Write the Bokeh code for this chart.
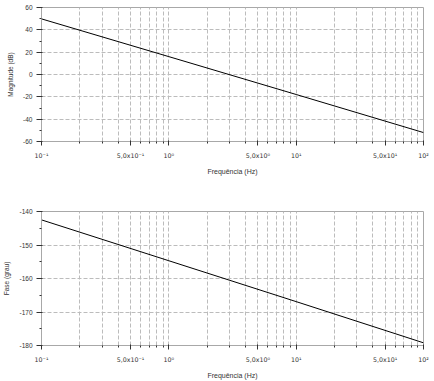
from bokeh.plotting import figure
from bokeh.layouts import column
from bokeh.models import FixedTicker, Range1d
from bokeh.embed import file_html
from bokeh.resources import INLINE

# ---- data ----
freq = [0.1, 1.0, 10.0, 100.0]
magnitude = [49.8, 16.0, -17.9, -52.0]
phase = [-142.5, -154.7, -166.9, -179.2]

x_major = [0.1, 0.5, 1.0, 5.0, 10.0, 50.0, 100.0]
x_labels = ["10⁻¹", "5,0x10⁻¹", "10⁰", "5,0x10⁰", "10¹", "5,0x10¹", "10²"]
x_minor = [0.2, 0.3, 0.4, 0.6, 0.7, 0.8, 0.9,
           2.0, 3.0, 4.0, 6.0, 7.0, 8.0, 9.0,
           20.0, 30.0, 40.0, 60.0, 70.0, 80.0, 90.0]

mag_ticks = [-60, -40, -20, 0, 20, 40, 60]
mag_labels = ["-60", "-40", "-20", "0", "20", "40", "60"]
mag_minor = [-50, -30, -10, 10, 30, 50]

ph_ticks = [-180, -170, -160, -150, -140]
ph_labels = ["-180", "-170", "-160", "-150", "-140"]
ph_minor = [-175, -165, -155, -145]

FONT = "Liberation Sans"
SUP_FONT = "DejaVu Sans"
AXIS_COL = "#a8a8a8"
TICK_COL = "#333333"
GRID_COL = "#bcbcbc"
TEXT_COL = "#333333"


def make(y, yr, yticks, ylabels, yminor, ylabel, height, bt, bb):
    p = figure(width=434, height=height, x_axis_type="log",
               x_range=Range1d(0.1, 100), y_range=Range1d(*yr),
               output_backend="svg", toolbar_location=None,
               min_border_left=41, min_border_right=11,
               min_border_top=bt, min_border_bottom=bb)
    p.line(freq, y, line_color="black", line_width=1.0)
    p.outline_line_color = AXIS_COL
    p.background_fill_color = "white"
    p.border_fill_color = "white"

    p.xaxis.ticker = FixedTicker(ticks=x_major, minor_ticks=x_minor)
    p.xaxis.major_label_overrides = dict(zip(x_major, x_labels))
    p.yaxis.ticker = FixedTicker(ticks=yticks, minor_ticks=yminor)
    p.yaxis.major_label_overrides = dict(zip(yticks, ylabels))

    for ax in (p.xaxis, p.yaxis):
        ax.axis_line_color = AXIS_COL
        ax.major_tick_line_color = TICK_COL
        ax.minor_tick_line_color = TICK_COL
        ax.major_tick_out = 4
        ax.major_tick_in = 1
        ax.minor_tick_out = 2
        ax.minor_tick_in = 0
        ax.major_label_text_font = FONT
        ax.major_label_text_font_size = "6.5px"
        ax.major_label_text_color = TEXT_COL
        ax.axis_label_text_font = FONT
        ax.axis_label_text_font_style = "normal"
        ax.axis_label_text_color = TEXT_COL
    p.xaxis.major_label_text_font = SUP_FONT
    p.xaxis.major_label_text_font_size = "6.3px"
    p.yaxis.major_tick_out = 5
    p.yaxis.major_label_standoff = 4
    p.yaxis.axis_label_standoff = 6
    p.yaxis.axis_label_text_font_size = "6.5px"
    p.xaxis.major_label_standoff = 6
    p.xaxis.axis_label_standoff = 6
    p.xaxis.axis_label_text_font_size = "7px"
    p.xaxis.axis_label = "Frequência (Hz)"
    p.yaxis.axis_label = ylabel

    p.xgrid.grid_line_color = GRID_COL
    p.xgrid.grid_line_dash = "4 2"
    p.xgrid.minor_grid_line_color = GRID_COL
    p.xgrid.minor_grid_line_dash = "4 2"
    p.ygrid.grid_line_color = GRID_COL
    p.ygrid.grid_line_dash = "4 2"
    return p


p1 = make(magnitude, (-60, 60), mag_ticks, mag_labels, mag_minor,
          "Magnitude (dB)", 190, 7, 49)
p2 = make(phase, (-180, -140), ph_ticks, ph_labels, ph_minor,
          "Fase (grau)", 191, 21, 36)

layout = column(p1, p2, spacing=0)
open("out.html", "w").write(file_html(layout, INLINE))
